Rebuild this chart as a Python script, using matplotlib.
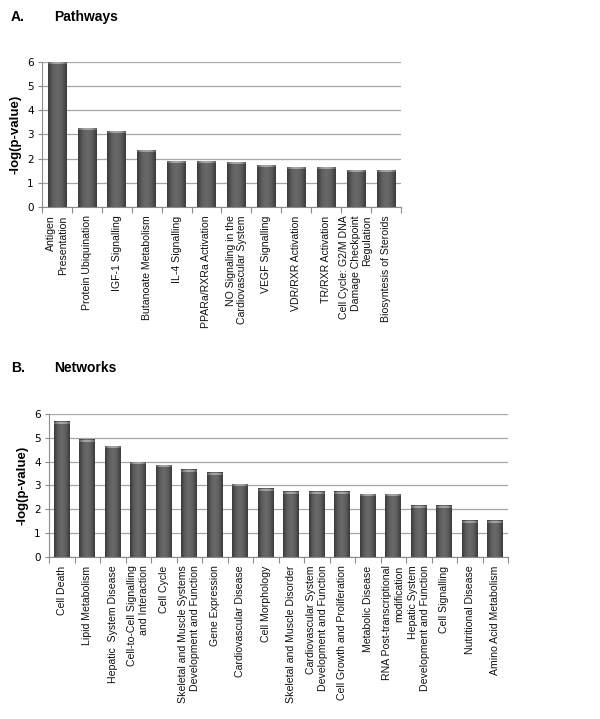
import matplotlib
matplotlib.use('Agg')
import matplotlib.pyplot as plt
from matplotlib.colors import LinearSegmentedColormap
import numpy as np

# Panel A: pathways
path_labels = ['Antigen\nPresentation', 'Protein Ubiquination', 'IGF-1 Signalling',
               'Butanoate Metabolism', 'IL-4 Signalling', 'PPARa/RXRa Activation',
               'NO Signaling in the\nCardiovascular System', 'VEGF Signalling',
               'VDR/RXR Activation', 'TR/RXR Activation',
               'Cell Cycle: G2/M DNA\nDamage Checkpoint\nRegulation',
               'Biosyntesis of Steroids']
path_values = [6.0, 3.25, 3.12, 2.33, 1.9, 1.9, 1.84, 1.73, 1.63, 1.63, 1.52, 1.52]

# Panel B: networks
net_labels = ['Cell Death', 'Lipid Metabolism', 'Hepatic  System Disease',
              'Cell-to-Cell Signalling\nand Interaction', 'Cell Cycle',
              'Skeletal and Muscle Systems\nDevelopment and Function',
              'Gene Expression', 'Cardiovascular Disease', 'Cell Morphology',
              'Skeletal and Muscle Disorder',
              'Cardiovascular System\nDevelopment and Function',
              'Cell Growth and Proliferation', 'Metabolic Disease',
              'RNA Post-transcriptional\nmodification',
              'Hepatic System\nDevelopment and Function', 'Cell Signalling',
              'Nutritional Disease', 'Amino Acid Metabolism']
net_values = [5.65, 4.9, 4.63, 3.95, 3.83, 3.64, 3.52, 3.05, 2.85, 2.73, 2.73, 2.73,
              2.63, 2.63, 2.14, 2.14, 1.52, 1.52]

y_ticks = [0, 1, 2, 3, 4, 5, 6]

bar_cmap = LinearSegmentedColormap.from_list(
    'cyl', ['#3a3a3a', '#5e5e5e', '#6a6a6a', '#5e5e5e', '#3a3a3a'])
cap_cmap = LinearSegmentedColormap.from_list(
    'cap', ['#5a5a5a', '#9a9a9a', '#a8a8a8', '#9a9a9a', '#5a5a5a'])


def draw_panel(ax, labels, values, width):
    n = len(values)
    x = np.arange(n)
    bars = ax.bar(x, values, width=width, color='#555555', zorder=2)
    grad = np.linspace(0, 1, 64).reshape(1, -1)
    for b in bars:
        x0, y0 = b.get_x(), b.get_y()
        x1, y1 = x0 + b.get_width(), y0 + b.get_height()
        b.set_visible(False)
        ax.imshow(grad, extent=[x0, x1, y0, y1], aspect='auto', cmap=bar_cmap,
                  zorder=2, interpolation='bicubic')
        ax.imshow(grad, extent=[x0, x1, y1 - 0.07, y1], aspect='auto', cmap=cap_cmap,
                  zorder=3, interpolation='bicubic')

    ax.set_xlim(-0.5, n - 0.5)
    ax.set_ylim(0, 6)
    ax.set_yticks(y_ticks)
    ax.yaxis.grid(True, color='#a6a6a6', linewidth=0.9, zorder=0)
    ax.set_axisbelow(True)
    for s in ['top', 'right']:
        ax.spines[s].set_visible(False)
    ax.spines['left'].set_color('#8c8c8c')
    ax.spines['bottom'].set_color('#8c8c8c')
    ax.tick_params(axis='y', labelsize=7.5, length=3, color='#8c8c8c', pad=3)

    # tick marks between categories, labels at centres
    ax.set_xticks(np.arange(n + 1) - 0.5)
    ax.set_xticklabels([])
    ax.tick_params(axis='x', length=4, color='#8c8c8c')
    for xi, lab in zip(x, labels):
        ax.annotate(lab, xy=(xi, 0), xycoords='data', xytext=(0, -6),
                    textcoords='offset points', rotation=90, ha='center', va='top',
                    multialignment='right', fontsize=7.6, family='Liberation Sans',
                    color='#111111')

    ax.set_ylabel('-log(p-value)', fontsize=9.5, fontweight='bold',
                  family='Liberation Sans', labelpad=4)


def main():
    fig = plt.figure(figsize=(6.0, 7.19), dpi=100)

    ax1 = fig.add_axes([0.070, 0.712, 0.598, 0.202])
    draw_panel(ax1, path_labels, path_values, 0.62)

    ax2 = fig.add_axes([0.0817, 0.225, 0.765, 0.1996])
    draw_panel(ax2, net_labels, net_values, 0.62)

    fig.text(0.018, 0.976, 'A.', fontsize=10, fontweight='bold',
             family='Liberation Sans', va='center')
    fig.text(0.09, 0.976, 'Pathways', fontsize=10, fontweight='bold',
             family='Liberation Sans', va='center')
    fig.text(0.018, 0.488, 'B.', fontsize=10, fontweight='bold',
             family='Liberation Sans', va='center')
    fig.text(0.09, 0.488, 'Networks', fontsize=10, fontweight='bold',
             family='Liberation Sans', va='center')

    fig.savefig('out.png', dpi=100)


if __name__ == '__main__':
    main()
